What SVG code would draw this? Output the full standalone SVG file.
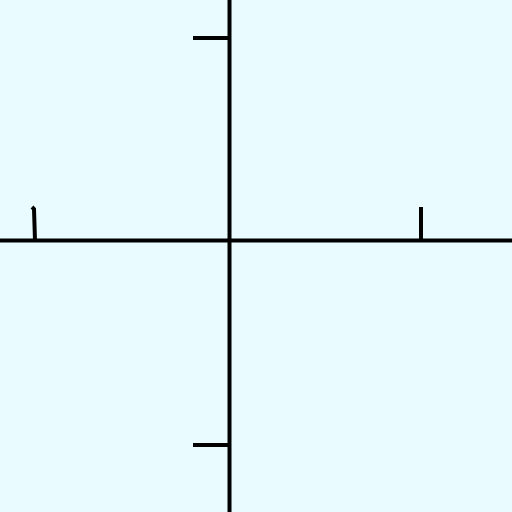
<svg xmlns="http://www.w3.org/2000/svg" width="512" height="512" viewBox="0 0 512 512">
<style>
.ax{stroke:#000;stroke-width:4;fill:none}
.tk{stroke:#000;stroke-width:4;fill:none}
</style>
<rect width="512" height="512" fill="#E9FBFF"/>
<g id="axes">
<line class="ax" x1="0" y1="240.5" x2="512" y2="240.5"/>
<line class="ax" x1="229.5" y1="0" x2="229.5" y2="512"/>
</g>
<g id="ticks">
<line class="tk" x1="193" y1="38" x2="229.5" y2="38"/>
<line class="tk" x1="193" y1="445" x2="229.5" y2="445"/>
<polyline class="tk" points="32,207 34,209 35,240.5"/>
<line class="tk" x1="421" y1="207" x2="421" y2="240.5"/>
</g>
</svg>
